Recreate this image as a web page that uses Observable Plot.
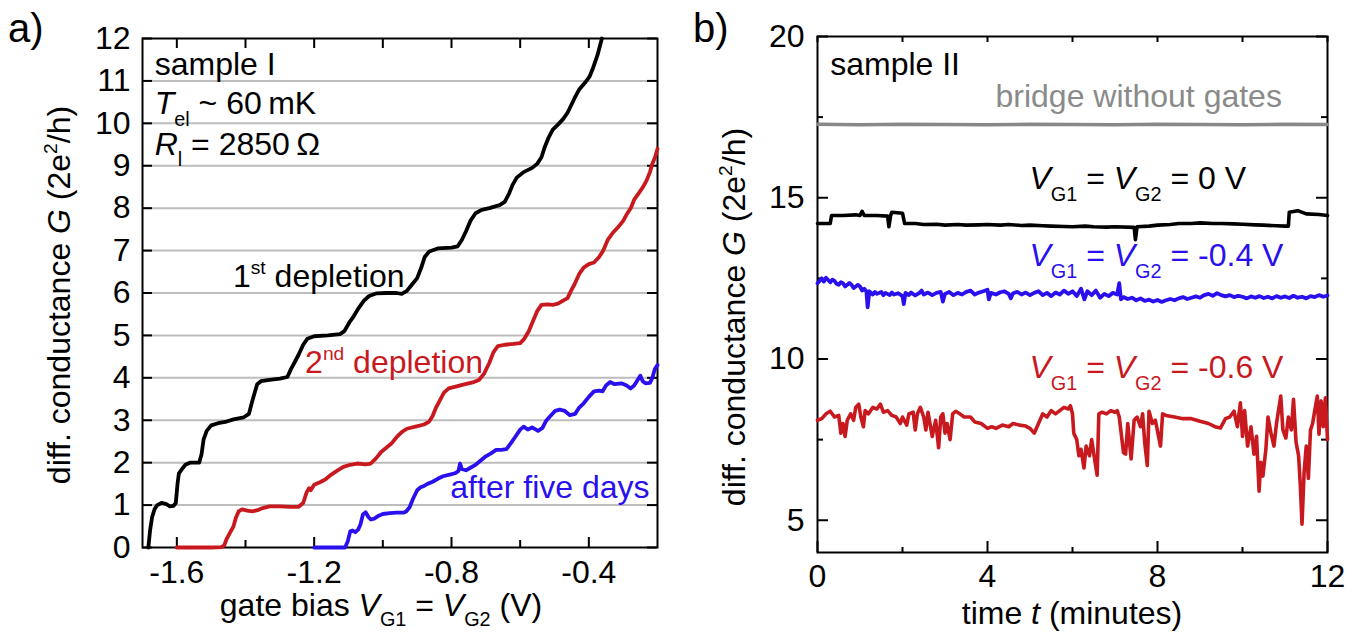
<!DOCTYPE html>
<html><head><meta charset="utf-8">
<script src="https://cdn.jsdelivr.net/npm/d3@7"></script>
<script src="https://cdn.jsdelivr.net/npm/@observablehq/plot@0.6"></script>
<style>
body{margin:0;background:#fff;}
#wrap{position:relative;width:1364px;height:636px;overflow:hidden;background:#fff;}
#wrap svg{position:absolute;top:0;}
</style></head><body><div id="wrap"></div>
<script>
const FONT = '"Liberation Sans", Arial, Helvetica, sans-serif';

// ---------- panel a data ----------
const gateTicksMajor = [-1.6, -1.2, -0.8, -0.4];
const gateTicksMinor = [-1.4, -1.0, -0.6];
const condTicksA = [0,1,2,3,4,5,6,7,8,9,10,11,12];
const gridA = [1,2,3,4,5,6,7,8,9,10,11];

const depletion1 = [
[-1.683,0],[-1.678,0.4],[-1.672,0.72],[-1.665,0.9],[-1.657,1.0],[-1.645,1.05],[-1.632,1.03],[-1.62,0.97],[-1.61,0.98],[-1.603,1.05],[-1.598,1.5],[-1.594,1.75],[-1.585,1.85],[-1.575,1.95],[-1.562,2.0],[-1.535,2.0],[-1.528,2.2],[-1.522,2.55],[-1.513,2.75],[-1.5,2.88],[-1.48,2.93],[-1.455,2.97],[-1.435,3.02],[-1.405,3.07],[-1.39,3.15],[-1.382,3.4],[-1.375,3.6],[-1.366,3.85],[-1.355,3.92],[-1.33,3.95],[-1.3,3.98],[-1.278,4.02],[-1.268,4.2],[-1.258,4.35],[-1.245,4.55],[-1.232,4.78],[-1.22,4.92],[-1.2,4.98],[-1.16,5.0],[-1.125,5.03],[-1.112,5.1],[-1.098,5.3],[-1.085,5.45],[-1.07,5.65],[-1.055,5.82],[-1.04,5.93],[-1.02,5.99],[-0.99,6.0],[-0.96,6.0],[-0.945,5.98],[-0.93,6.05],[-0.915,6.2],[-0.9,6.35],[-0.888,6.6],[-0.878,6.85],[-0.865,6.98],[-0.84,7.05],[-0.8,7.07],[-0.782,7.1],[-0.77,7.25],[-0.758,7.45],[-0.745,7.7],[-0.73,7.88],[-0.712,7.96],[-0.69,8.0],[-0.66,8.07],[-0.645,8.15],[-0.632,8.35],[-0.622,8.55],[-0.61,8.72],[-0.59,8.85],[-0.565,8.95],[-0.55,9.05],[-0.538,9.2],[-0.528,9.45],[-0.518,9.65],[-0.505,9.85],[-0.49,9.97],[-0.475,10.1],[-0.462,10.25],[-0.45,10.45],[-0.44,10.62],[-0.428,10.8],[-0.412,10.95],[-0.398,11.1],[-0.388,11.3],[-0.375,11.6],[-0.362,12.0]
];
const depletion2 = [
[-1.6,0],[-1.55,0.0],[-1.5,0.0],[-1.47,0.01],[-1.462,0.05],[-1.455,0.2],[-1.445,0.35],[-1.435,0.5],[-1.428,0.7],[-1.42,0.85],[-1.41,0.9],[-1.395,0.87],[-1.38,0.85],[-1.365,0.88],[-1.35,0.93],[-1.33,0.97],[-1.3,0.97],[-1.27,0.96],[-1.245,0.96],[-1.232,1.05],[-1.222,1.3],[-1.215,1.4],[-1.21,1.35],[-1.2,1.48],[-1.18,1.55],[-1.165,1.62],[-1.15,1.72],[-1.135,1.8],[-1.115,1.9],[-1.095,1.95],[-1.075,1.98],[-1.05,1.96],[-1.035,1.98],[-1.02,2.1],[-1.005,2.25],[-0.99,2.35],[-0.975,2.45],[-0.96,2.6],[-0.945,2.72],[-0.93,2.8],[-0.905,2.85],[-0.88,2.9],[-0.865,2.97],[-0.855,3.1],[-0.845,3.3],[-0.835,3.45],[-0.822,3.65],[-0.808,3.75],[-0.785,3.8],[-0.76,3.85],[-0.735,3.9],[-0.72,3.95],[-0.705,4.1],[-0.69,4.35],[-0.678,4.6],[-0.665,4.75],[-0.645,4.78],[-0.62,4.8],[-0.6,4.82],[-0.588,4.92],[-0.575,5.1],[-0.562,5.35],[-0.55,5.58],[-0.538,5.72],[-0.52,5.73],[-0.505,5.72],[-0.49,5.75],[-0.475,5.82],[-0.462,5.88],[-0.452,6.05],[-0.442,6.2],[-0.428,6.45],[-0.415,6.6],[-0.4,6.68],[-0.385,6.72],[-0.37,6.85],[-0.358,7.0],[-0.345,7.25],[-0.33,7.42],[-0.315,7.55],[-0.3,7.7],[-0.29,7.85],[-0.278,8.0],[-0.268,8.2],[-0.255,8.35],[-0.242,8.5],[-0.232,8.65],[-0.222,8.85],[-0.215,9.05],[-0.207,9.2],[-0.2,9.4]
];
const afterFiveDays = [
[-1.2,0],[-1.15,0],[-1.11,0.0],[-1.102,0.15],[-1.095,0.38],[-1.088,0.4],[-1.08,0.36],[-1.072,0.42],[-1.065,0.55],[-1.058,0.78],[-1.05,0.83],[-1.042,0.72],[-1.035,0.66],[-1.025,0.68],[-1.012,0.75],[-1.0,0.79],[-0.98,0.81],[-0.96,0.82],[-0.94,0.82],[-0.932,0.85],[-0.922,0.95],[-0.912,1.15],[-0.9,1.35],[-0.89,1.42],[-0.88,1.45],[-0.87,1.5],[-0.855,1.55],[-0.84,1.62],[-0.825,1.68],[-0.805,1.72],[-0.79,1.75],[-0.78,1.8],[-0.775,1.98],[-0.77,1.85],[-0.758,1.82],[-0.745,1.88],[-0.73,1.95],[-0.715,2.05],[-0.7,2.15],[-0.685,2.22],[-0.67,2.3],[-0.655,2.3],[-0.64,2.32],[-0.628,2.45],[-0.615,2.6],[-0.6,2.78],[-0.59,2.85],[-0.578,2.78],[-0.565,2.83],[-0.548,2.75],[-0.535,2.82],[-0.525,2.98],[-0.512,3.1],[-0.498,3.22],[-0.485,3.25],[-0.47,3.22],[-0.455,3.12],[-0.44,3.15],[-0.428,3.3],[-0.415,3.4],[-0.4,3.55],[-0.385,3.68],[-0.37,3.7],[-0.36,3.68],[-0.35,3.82],[-0.338,3.9],[-0.325,3.85],[-0.305,3.87],[-0.29,3.82],[-0.278,3.75],[-0.268,3.82],[-0.258,3.95],[-0.25,4.05],[-0.243,3.92],[-0.235,3.87],[-0.222,3.88],[-0.215,4.0],[-0.208,4.2],[-0.2,4.3]
];

// ---------- panel b data ----------
const timeTicksMajor = [0, 4, 8, 12];
const timeTicksMinor = [2, 6, 10];
const condTicksBMajor = [5, 10, 15, 20];
const condTicksBMinor = [7.5, 12.5, 17.5];

const bridge = [[0,17.28],[1,17.26],[2,17.28],[3,17.27],[4,17.26],[5,17.28],[6,17.27],[7,17.26],[8,17.28],[9,17.27],[10,17.26],[11,17.28],[12,17.27]];
const gate0 = [
[0,14.2],[0.3,14.2],[0.33,14.45],[0.6,14.45],[0.9,14.47],[1.0,14.45],[1.05,14.58],[1.1,14.45],[1.4,14.45],[1.65,14.43],[1.68,14.1],[1.72,14.45],[1.75,14.55],[2.0,14.52],[2.05,14.2],[2.3,14.2],[2.5,14.17],[2.8,14.18],[3.0,14.15],[3.3,14.17],[3.5,14.15],[3.8,14.16],[4,14.17],[4.3,14.15],[4.5,14.17],[4.8,14.14],[5,14.15],[5.3,14.13],[5.5,14.12],[5.8,14.11],[6,14.1],[6.3,14.12],[6.5,14.1],[6.8,14.09],[7,14.1],[7.45,14.08],[7.48,13.7],[7.52,14.1],[7.8,14.12],[8,14.15],[8.3,14.17],[8.5,14.2],[8.8,14.2],[9,14.22],[9.3,14.2],[9.5,14.2],[9.8,14.19],[10,14.18],[10.3,14.16],[10.5,14.15],[10.8,14.13],[11.0,14.12],[11.08,14.12],[11.1,14.55],[11.3,14.6],[11.5,14.5],[11.8,14.48],[12,14.45]
];
const gate04 = [
[0,12.35],[0.05,12.42],[0.1,12.5],[0.15,12.4],[0.2,12.52],[0.25,12.45],[0.3,12.38],[0.35,12.46],[0.4,12.42],[0.45,12.33],[0.5,12.3],[0.55,12.38],[0.6,12.35],[0.65,12.25],[0.7,12.3],[0.75,12.36],[0.8,12.3],[0.85,12.2],[0.9,12.25],[0.95,12.3],[1.0,12.25],[1.05,12.12],[1.1,12.18],[1.15,12.1],[1.18,11.6],[1.22,12.1],[1.3,12.0],[1.35,12.08],[1.4,12.02],[1.5,12.08],[1.55,11.98],[1.6,12.05],[1.7,11.98],[1.75,12.06],[1.8,12.0],[1.9,12.04],[2.0,11.95],[2.03,11.7],[2.07,12.05],[2.15,11.98],[2.2,12.06],[2.3,11.97],[2.4,12.05],[2.45,12.12],[2.5,12.0],[2.6,12.06],[2.7,11.98],[2.8,12.05],[2.9,12.08],[2.95,11.78],[3.0,12.02],[3.1,12.08],[3.2,11.98],[3.3,12.05],[3.4,12.0],[3.5,12.08],[3.6,12.12],[3.7,12.0],[3.8,12.06],[3.9,12.1],[4.0,12.15],[4.03,11.85],[4.08,12.05],[4.2,12.0],[4.3,12.07],[4.4,12.1],[4.5,12.02],[4.55,11.88],[4.6,12.04],[4.7,12.08],[4.8,12.0],[4.9,12.06],[5.0,11.98],[5.1,12.05],[5.2,12.1],[5.3,11.98],[5.4,12.05],[5.5,11.95],[5.6,12.06],[5.7,12.0],[5.8,12.12],[5.9,12.02],[6.0,12.1],[6.1,11.95],[6.2,12.18],[6.28,11.85],[6.35,12.1],[6.45,11.98],[6.55,12.12],[6.65,11.9],[6.75,12.02],[6.85,11.95],[6.95,12.05],[7.05,12.0],[7.1,12.35],[7.14,11.85],[7.2,11.92],[7.3,11.86],[7.4,11.9],[7.5,11.82],[7.6,11.88],[7.7,11.8],[7.8,11.84],[7.9,11.78],[8.0,11.83],[8.1,11.77],[8.2,11.82],[8.3,11.86],[8.4,11.82],[8.5,11.88],[8.6,11.92],[8.7,11.86],[8.8,11.9],[8.9,11.94],[9.0,11.9],[9.1,11.98],[9.2,12.02],[9.3,11.96],[9.4,12.04],[9.5,11.98],[9.6,11.94],[9.7,11.98],[9.8,11.92],[9.9,11.96],[10.0,11.93],[10.1,11.88],[10.2,11.94],[10.3,11.9],[10.4,11.95],[10.5,11.89],[10.6,11.93],[10.7,11.88],[10.8,11.95],[10.9,11.9],[11.0,11.94],[11.1,11.89],[11.2,11.96],[11.3,11.9],[11.4,11.93],[11.5,11.88],[11.6,11.95],[11.7,11.92],[11.8,11.98],[11.9,11.93],[12.0,11.97]
];
const gate06 = [
[0,8.1],[0.1,8.15],[0.2,8.3],[0.3,8.38],[0.4,8.2],[0.5,8.25],[0.55,7.7],[0.6,8.0],[0.65,7.6],[0.7,8.1],[0.78,8.3],[0.85,8.1],[0.9,8.5],[0.97,8.6],[1.02,8.2],[1.08,7.9],[1.12,8.4],[1.2,8.3],[1.3,8.5],[1.4,8.45],[1.48,8.6],[1.55,8.35],[1.65,8.4],[1.75,8.25],[1.85,8.2],[1.95,8.0],[2.0,8.2],[2.1,7.95],[2.15,8.3],[2.25,8.35],[2.3,7.8],[2.35,8.3],[2.42,8.5],[2.5,8.2],[2.55,7.8],[2.6,8.35],[2.7,7.6],[2.78,8.1],[2.85,7.25],[2.9,8.2],[2.95,8.3],[3.0,7.7],[3.05,8.0],[3.12,7.5],[3.18,8.3],[3.25,8.38],[3.35,8.3],[3.45,8.2],[3.6,8.2],[3.7,8.05],[3.85,8.0],[4.0,7.85],[4.1,7.9],[4.2,7.85],[4.35,7.95],[4.5,7.9],[4.6,8.0],[4.75,7.95],[4.9,7.92],[5.0,7.85],[5.1,7.7],[5.2,8.0],[5.3,8.3],[5.4,8.2],[5.5,8.4],[5.6,8.3],[5.7,8.4],[5.8,8.5],[5.9,8.45],[5.95,8.55],[6.0,8.3],[6.03,7.7],[6.1,7.5],[6.15,7.0],[6.2,7.2],[6.27,6.62],[6.32,7.3],[6.4,7.0],[6.45,7.5],[6.52,6.9],[6.58,6.4],[6.62,8.3],[6.7,8.35],[6.8,8.3],[6.9,8.4],[7.0,8.35],[7.05,8.4],[7.1,8.2],[7.2,7.1],[7.25,7.05],[7.3,8.0],[7.38,6.9],[7.45,8.1],[7.52,8.2],[7.6,7.9],[7.65,8.3],[7.7,7.4],[7.76,6.7],[7.8,8.38],[7.88,8.0],[7.95,8.1],[8.07,7.3],[8.12,8.3],[8.2,8.25],[8.4,8.2],[8.6,8.15],[8.8,8.15],[9.0,8.07],[9.2,8.0],[9.35,7.9],[9.48,7.86],[9.6,8.15],[9.7,8.2],[9.8,8.38],[9.88,7.9],[9.95,8.64],[10.0,7.6],[10.05,8.4],[10.12,7.3],[10.2,7.9],[10.27,7.05],[10.33,7.6],[10.39,5.9],[10.43,6.8],[10.48,6.37],[10.55,7.2],[10.6,8.2],[10.67,7.7],[10.74,7.3],[10.8,8.0],[10.9,8.85],[10.95,7.8],[11.02,7.55],[11.08,8.2],[11.15,7.8],[11.2,8.75],[11.26,7.42],[11.32,7.0],[11.36,6.1],[11.4,4.88],[11.45,6.5],[11.5,7.3],[11.55,6.3],[11.6,7.8],[11.65,8.0],[11.7,8.4],[11.76,8.85],[11.8,7.67],[11.85,8.7],[11.9,7.9],[11.95,8.8],[12.0,7.5]
];

const RED = "#c8191e", BLUE = "#2a10ee", GRAY = "#8a8a8a";

// ---------- helpers ----------
function richText(svg, x, y, parts, o = {}) {
  const size = o.size || 32;
  const subShift = o.subShift || 0.36;
  const t = d3.select(svg).append("text")
    .attr("x", x).attr("y", y)
    .attr("fill", o.fill || "#000")
    .attr("font-size", size)
    .attr("font-family", FONT)
    .attr("text-anchor", o.anchor || "start");
  if (o.rotate) t.attr("transform", `rotate(-90 ${x} ${y})`);
  let shift = 0;
  for (const p of parts) {
    const s = t.append("tspan").text(p.t);
    let target = 0, fs = size;
    if (p.sub) { target = subShift * size; fs = 0.62 * size; }
    if (p.sup) { target = -0.4 * size; fs = 0.6 * size; }
    s.attr("font-size", fs).attr("dy", target - shift);
    shift = target;
    if (p.i) s.attr("font-style", "italic");
  }
  return t;
}
const ylabelParts = [{t: "diff. conductance "}, {t: "G", i: true}, {t: " (2e"}, {t: "2", sup: true}, {t: "/h)"}];

const wrap = document.getElementById("wrap");

// ---------- panel a ----------
const WA = 680, HA = 636, mA = {l: 142, r: 23, t: 38, b: 89};
const iWA = WA - mA.l - mA.r, iHA = HA - mA.t - mA.b;
const lineOpts = (c, w) => ({x: d => d[0], y: d => d[1], stroke: c, strokeWidth: w, strokeLinejoin: "round", strokeLinecap: "round"});
const plotA = Plot.plot({
  width: WA, height: HA,
  marginLeft: mA.l, marginRight: mA.r, marginTop: mA.t, marginBottom: mA.b,
  x: {domain: [-1.7, -0.2], axis: null},
  y: {domain: [0, 12], axis: null},
  style: {fontFamily: FONT, fontSize: "32px", color: "#000", background: "transparent", overflow: "visible"},
  marks: [
    Plot.ruleY(gridA, {y: d => d, stroke: "#bdbdbd", strokeWidth: 2}),
    Plot.ruleX(gateTicksMajor, {x: d => d, insetTop: iHA - 10, stroke: "#000", strokeWidth: 2}),
    Plot.ruleX(gateTicksMinor, {x: d => d, insetTop: iHA - 7, stroke: "#000", strokeWidth: 2}),
    Plot.ruleX([...gateTicksMajor, ...gateTicksMinor], {x: d => d, insetBottom: iHA - 10, stroke: "#000", strokeWidth: 2}),
    Plot.ruleY(condTicksA, {y: d => d, insetRight: iWA - 10, stroke: "#000", strokeWidth: 2}),
    Plot.ruleY(condTicksA, {y: d => d, insetLeft: iWA - 10, stroke: "#000", strokeWidth: 2}),
    Plot.frame({stroke: "#000", strokeWidth: 2}),
    Plot.line(depletion1, lineOpts("#000", 3.8)),
    Plot.line(depletion2, lineOpts(RED, 3.8)),
    Plot.line(afterFiveDays, lineOpts(BLUE, 3.8)),
    Plot.text(condTicksA, {y: d => d, text: d => String(d), frameAnchor: "left", textAnchor: "end", dx: -12, fontSize: 32, fill: "#000"}),
    Plot.text(gateTicksMajor, {x: d => d, text: d => d.toFixed(1), frameAnchor: "bottom", lineAnchor: "top", dy: 13, fontSize: 32, fill: "#000"})
  ]
});
plotA.style.left = "0px";
wrap.appendChild(plotA);
{
  const sx = plotA.scale("x"), sy = plotA.scale("y");
  const X = v => sx.apply(v), Y = v => sy.apply(v);
  richText(plotA, 8, 42, [{t: "a)"}], {size: 40});
  richText(plotA, X(-1.663), Y(11.13), [{t: "sample I"}]);
  richText(plotA, X(-1.663), Y(10.2), [{t: "T", i: true}, {t: "el", sub: true}, {t: " ~ 60\u2009mK"}]);
  richText(plotA, X(-1.663), Y(9.25), [{t: "R", i: true}, {t: "l", sub: true}, {t: " = 2850\u2009\u03A9"}]);
  richText(plotA, X(-1.435), Y(6.13), [{t: "1"}, {t: "st", sup: true}, {t: " depletion"}]);
  richText(plotA, X(-1.225), Y(4.1), [{t: "2"}, {t: "nd", sup: true}, {t: " depletion"}], {fill: RED});
  richText(plotA, X(-0.802), Y(1.16), [{t: "after five days"}], {fill: BLUE});
  richText(plotA, 70, 295, ylabelParts, {rotate: true, anchor: "middle"});
  richText(plotA, 381, 616, [{t: "gate bias "}, {t: "V", i: true}, {t: "G1", sub: true}, {t: " = "}, {t: "V", i: true}, {t: "G2", sub: true}, {t: " (V)"}], {anchor: "middle", subShift: 0.3});
}

// ---------- panel b ----------
const WB = 684, HB = 636, mB = {l: 137, r: 37, t: 36, b: 84};
const iWB = WB - mB.l - mB.r, iHB = HB - mB.t - mB.b;
const plotB = Plot.plot({
  width: WB, height: HB,
  marginLeft: mB.l, marginRight: mB.r, marginTop: mB.t, marginBottom: mB.b,
  x: {domain: [0, 12], axis: null},
  y: {domain: [4, 20], axis: null},
  style: {fontFamily: FONT, fontSize: "32px", color: "#000", background: "transparent", overflow: "visible"},
  marks: [
    Plot.ruleX(timeTicksMajor, {x: d => d, insetTop: iHB - 11, stroke: "#000", strokeWidth: 2}),
    Plot.ruleX(timeTicksMinor, {x: d => d, insetTop: iHB - 5, stroke: "#000", strokeWidth: 2}),
    Plot.ruleX([...timeTicksMajor, ...timeTicksMinor], {x: d => d, insetBottom: iHB - 6, stroke: "#000", strokeWidth: 2}),
    Plot.ruleY(condTicksBMajor, {y: d => d, insetRight: iWB - 11, stroke: "#000", strokeWidth: 2}),
    Plot.ruleY(condTicksBMinor, {y: d => d, insetRight: iWB - 6, stroke: "#000", strokeWidth: 2}),
    Plot.ruleY(condTicksBMajor, {y: d => d, insetLeft: iWB - 11, stroke: "#000", strokeWidth: 2}),
    Plot.ruleY(condTicksBMinor, {y: d => d, insetLeft: iWB - 6, stroke: "#000", strokeWidth: 2}),
    Plot.frame({stroke: "#000", strokeWidth: 2}),
    Plot.line(bridge, lineOpts("#888", 3.5)),
    Plot.line(gate0, lineOpts("#000", 3.6)),
    Plot.line(gate04, lineOpts(BLUE, 3.8)),
    Plot.line(gate06, lineOpts(RED, 3.6)),
    Plot.text(condTicksBMajor, {y: d => d, text: d => String(d), frameAnchor: "left", textAnchor: "end", dx: -13, fontSize: 32, fill: "#000"}),
    Plot.text(timeTicksMajor, {x: d => d, text: d => String(d), frameAnchor: "bottom", lineAnchor: "top", dy: 12, fontSize: 32, fill: "#000"})
  ]
});
plotB.style.left = "680px";
wrap.appendChild(plotB);
{
  const sx = plotB.scale("x"), sy = plotB.scale("y");
  const X = v => sx.apply(v), Y = v => sy.apply(v);
  richText(plotB, 13, 42, [{t: "b)"}], {size: 40});
  richText(plotB, X(0.31), Y(18.79), [{t: "sample II"}]);
  richText(plotB, X(4.2), Y(17.8), [{t: "bridge without gates"}], {fill: GRAY});
  const vg = tail => [{t: "V", i: true}, {t: "G1", sub: true}, {t: " = "}, {t: "V", i: true}, {t: "G2", sub: true}, {t: tail}];
  richText(plotB, X(5.0), Y(15.25), vg(" = 0 V"));
  richText(plotB, X(5.0), Y(12.86), vg(" = -0.4 V"), {fill: BLUE});
  richText(plotB, X(5.0), Y(9.38), vg(" = -0.6 V"), {fill: RED});
  richText(plotB, 65, 317, ylabelParts, {rotate: true, anchor: "middle"});
  richText(plotB, (mB.l + WB - mB.r) / 2, 624, [{t: "time "}, {t: "t", i: true}, {t: " (minutes)"}], {anchor: "middle"});
}
</script></body></html>
